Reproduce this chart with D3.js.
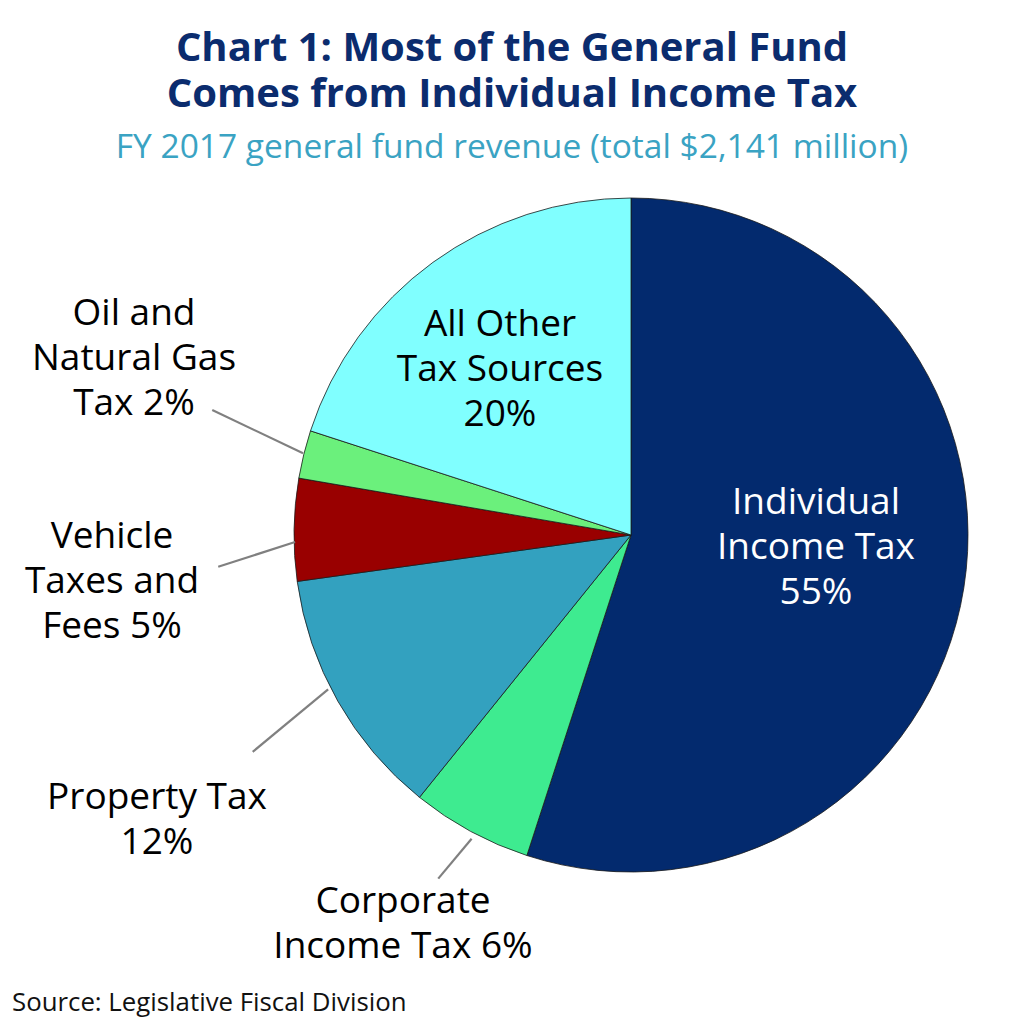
<!DOCTYPE html>
<html><head><meta charset="utf-8">
<script src="https://cdn.jsdelivr.net/npm/d3@7"></script>
<style>
html,body{margin:0;padding:0;background:#fff;}
text{font-family:"Open Sans",sans-serif;}
</style></head>
<body><svg id="c" width="1024" height="1024"></svg>
<script>
const categories = ["Individual Income Tax","Corporate Income Tax","Property Tax","Vehicle Taxes and Fees","Oil and Natural Gas Tax","All Other Tax Sources"];
const shares = [55.0, 5.8, 12.0, 4.9, 2.3, 20.0];
const colors = ["#032a6e","#3eeb90","#33a1bf","#990000","#6bf07c","#80ffff"];
const labelLines = [
  ["Individual","Income Tax","55%"],
  ["Corporate","Income Tax 6%"],
  ["Property Tax","12%"],
  ["Vehicle","Taxes and","Fees 5%"],
  ["Oil and","Natural Gas","Tax 2%"],
  ["All Other","Tax Sources","20%"]
];

const svg = d3.select("#c");
const cx = 631, cy = 535, R = 337;
const data = categories.map((c,i)=>({name:c, value:shares[i], color:colors[i], lines:labelLines[i]}));
const pie = d3.pie().value(d=>d.value).sort(null);
const arcs = pie(data);
const arc = d3.arc().innerRadius(0).outerRadius(R);
const g = svg.append("g").attr("transform",`translate(${cx},${cy})`);
g.selectAll("path").data(arcs).join("path")
  .attr("d",arc).attr("fill",d=>d.data.color)
  .attr("stroke","#1a1a1a").attr("stroke-width",0.8);

const labelPos = [
  {x:816, y:546, fill:"#ffffff"},
  {x:403, y:922, lead:[[-0.75,343],[0.85,394]]},
  {x:157, y:818, lead:[[2.5,340],[-0.3,436]]},
  {x:112, y:580, lead:[[-2.1,336],[-5.3,414]]},
  {x:134, y:357, lead:[[0.15,338],[2.75,437]]},
  {x:500, y:368, fill:"#000000"}
];
const fs = 37, lh = 45;
arcs.forEach((a,i)=>{
  const p = labelPos[i];
  const lines = a.data.lines;
  const t = svg.append("text").attr("text-anchor","middle")
    .attr("font-size",fs).attr("fill",p.fill||"#000");
  const n = lines.length;
  lines.forEach((l,j)=>{
    t.append("tspan").attr("x",p.x)
     .attr("y",p.y + (j-(n-1)/2)*lh + fs*0.36).text(l);
  });
  if(p.lead){
    const mid = (a.startAngle+a.endAngle)/2;
    const pts = p.lead.map(([dAng,r])=>{
      const ang = mid + dAng*Math.PI/180;
      return [cx + r*Math.sin(ang), cy - r*Math.cos(ang)];
    });
    svg.append("line").attr("x1",pts[0][0]).attr("y1",pts[0][1])
      .attr("x2",pts[1][0]).attr("y2",pts[1][1])
      .attr("stroke","#808080").attr("stroke-width",2.2);
  }
});

svg.append("text").attr("x",512).attr("y",47+14).attr("text-anchor","middle")
  .attr("font-size",40).attr("font-weight",700).attr("fill","#0b2c6e")
  .text("Chart 1: Most of the General Fund");
svg.append("text").attr("x",512).attr("y",93+14).attr("text-anchor","middle")
  .attr("font-size",40).attr("font-weight",700).attr("fill","#0b2c6e")
  .text("Comes from Individual Income Tax");
svg.append("text").attr("x",512).attr("y",146+12).attr("text-anchor","middle")
  .attr("font-size",33.5).attr("fill","#3aa3c3")
  .text("FY 2017 general fund revenue (total $2,141 million)");
svg.append("text").attr("x",12).attr("y",1002+9).attr("font-size",25.8).attr("fill","#111")
  .text("Source: Legislative Fiscal Division");
</script></body></html>
